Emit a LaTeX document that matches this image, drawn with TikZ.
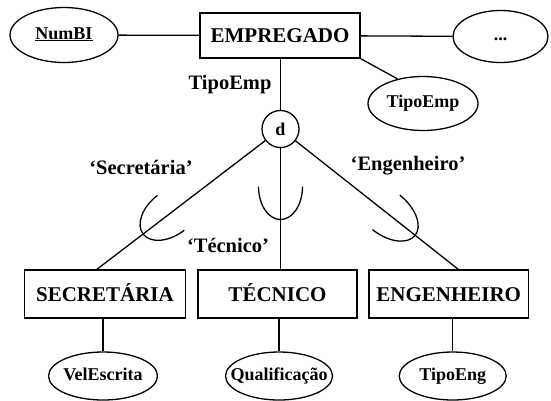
\documentclass[tikz,border=0pt]{standalone}
\usepackage{fontspec}
\setmainfont{Liberation Serif}
\usetikzlibrary{shapes.geometric,calc}
\usetikzlibrary{positioning}
\tikzset{
    font={\fontsize{21pt}{21pt}\selectfont\bfseries},
    entity/.style={
           rectangle,
           draw=black, line width=1.3pt,
           minimum width=160pt,
           minimum height=48pt,
           inner sep=2pt,
           text height=14pt, text depth=0pt,
           text centered,
           },
    attrib/.style={
           ellipse,
           draw=black, line width=1.3pt,
           minimum width=108pt,
           minimum height=48pt,
           inner xsep=-12pt, inner ysep=0pt,
           text height=12pt, text depth=4pt,
           font={\fontsize{18pt}{18pt}\selectfont\bfseries},
           },
    disjoint/.style={
           circle,
           draw=black, line width=1.3pt,
           minimum size=37pt,
           inner sep=0pt,
           font={\fontsize{18pt}{18pt}\selectfont\bfseries},
           },
    spec/.style={draw=none, inner sep=1pt, font={\fontsize{20.5pt}{20.5pt}\selectfont\bfseries}},
    link/.style={line width=1.3pt},
}

\begin{document}
\begin{tikzpicture}[x=1pt,y=1pt]
\useasboundingbox (0,0) rectangle (551,-400);

\node[entity, minimum height=45pt] (EMPREGADO) at (280,-35.5) {EMPREGADO};

\node[attrib, left of=EMPREGADO, node distance=216pt, yshift=0.5pt, minimum height=55pt] (NUMBI) {\underline{NumBI}};
\node[attrib, right of=EMPREGADO, node distance=220.5pt, yshift=-1pt, minimum width=95pt, minimum height=52pt] (OUTROS) {...};
\node[attrib, right of=EMPREGADO, node distance=143pt, yshift=-68pt, minimum width=110pt, minimum height=54pt] (ATIPOEMP) {TipoEmp};
\node[spec, left of=EMPREGADO, node distance=50pt, yshift=-49.5pt] (LTIPOEMP) {TipoEmp};

 % disjunction circle
\node[disjoint, below of=EMPREGADO, node distance=93.5pt, xshift=0.5pt] (DISJ) {d};

 % subclasses
\node[entity, below of=DISJ, node distance=165pt, xshift=-3pt, minimum width=159pt] (TECNICO) {TÉCNICO};
\node[entity, left of=TECNICO, node distance=172.5pt, minimum width=161pt] (SECRETARIA) {SECRETÁRIA};
\node[entity, right of=TECNICO, node distance=171.2pt, minimum width=159.5pt] (ENGENHEIRO) {ENGENHEIRO};

\node[attrib, below of=SECRETARIA, node distance=82pt, xshift=-2pt, minimum width=109pt] (VELESCRITA) {VelEscrita};
\node[attrib, below of=TECNICO, node distance=82pt, xshift=1.5pt, minimum width=107pt] (QUALIFICACAO) {Qualificação};
\node[attrib, below of=ENGENHEIRO, node distance=82pt, xshift=4pt, minimum width=107pt] (TIPOENG) {TipoEng};

 % defining predicates
\node[spec, left of=DISJ, node distance=139.5pt, yshift=-38pt] (LSECRETARIA) {‘Secretária’};
\node[spec, left of=DISJ, node distance=52.5pt, yshift=-116pt] (LTECNICO) {‘Técnico’};
\node[spec, right of=DISJ, node distance=127.5pt, yshift=-37pt] (LENGENHEIRO) {‘Engenheiro’};

\coordinate (SECTOP) at ($(SECRETARIA.north west)!0.45!(SECRETARIA.north east)$);
\coordinate (TECTOP) at (TECNICO.north -| DISJ);
\coordinate (ENGTOP) at ($(ENGENHEIRO.north west)!0.56!(ENGENHEIRO.north east)$);

\draw[link] (NUMBI) -- (EMPREGADO);
\draw[link] (EMPREGADO) -- (OUTROS);
\draw[link] (EMPREGADO.south east) -- (ATIPOEMP.136);
\draw[link] (EMPREGADO.south -| DISJ) -- (DISJ);
\draw[link] (DISJ) -- (SECTOP);
\draw[link] (DISJ) -- (TECTOP);
\draw[link] (DISJ) -- (ENGTOP);
\draw[link] (SECRETARIA.south -| VELESCRITA) -- (VELESCRITA);
\draw[link] (TECNICO.south -| QUALIFICACAO) -- (QUALIFICACAO);
\draw[link] (ENGENHEIRO.south -| TIPOENG) -- (TIPOENG);

 % subset symbols
\coordinate (CSEC) at ($(DISJ)!0.597!(SECTOP)$);
\coordinate (CTEC) at ($(DISJ)!0.41!(TECTOP)$);
\coordinate (CENG) at ($(DISJ)!0.594!(ENGTOP)$);
\begin{scope}[shift={(CSEC)}, rotate=37.5]
\draw[link] (0,22) arc[start angle=90, end angle=270, x radius=35pt, y radius=22pt];
\end{scope}
\begin{scope}[shift={(CTEC)}, rotate=90]
\draw[link] (0,22) arc[start angle=90, end angle=270, x radius=33pt, y radius=22pt];
\end{scope}
\begin{scope}[shift={(CENG)}, rotate=141.5]
\draw[link] (0,22) arc[start angle=90, end angle=270, x radius=37pt, y radius=22pt];
\end{scope}

\end{tikzpicture}
\end{document}
